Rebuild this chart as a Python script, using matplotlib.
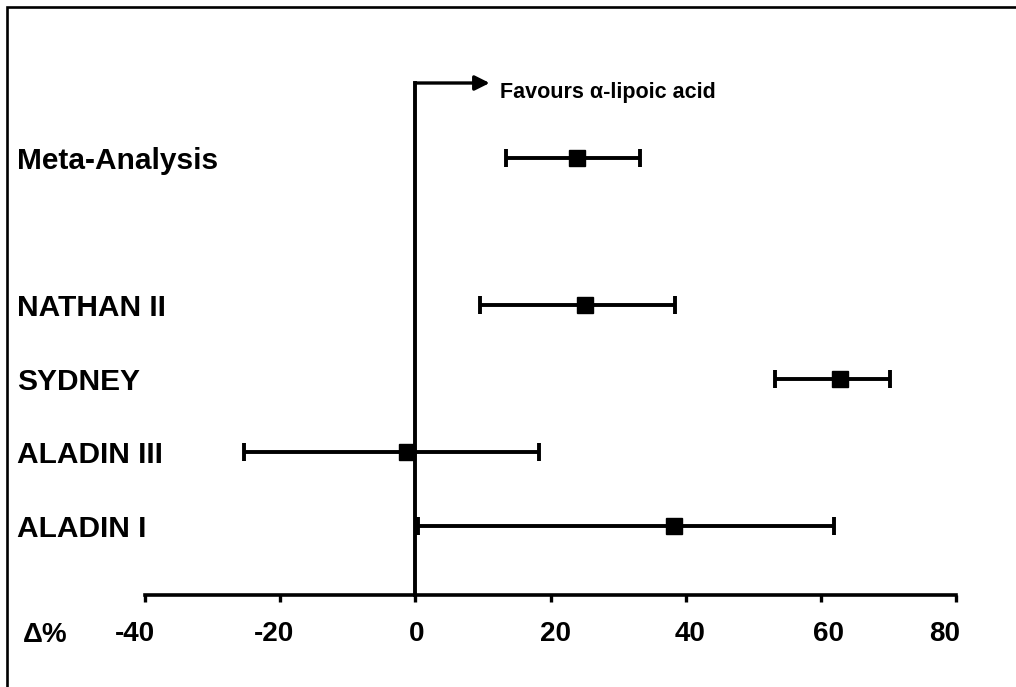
import matplotlib
matplotlib.use("Agg")
import matplotlib.pyplot as plt
import matplotlib.transforms as mtransforms
from matplotlib.patches import Rectangle

plt.rcParams['font.family'] = ['Liberation Sans', 'DejaVu Sans']
plt.rcParams['font.weight'] = 'bold'

# ---- data ----
studies = ["Meta-Analysis", "NATHAN II", "SYDNEY", "ALADIN III", "ALADIN I"]
positions = [6, 4, 3, 2, 1]
effect = [23.9, 25.1, 62.8, -1.3, 38.3]
ci_low = [13.4, 9.6, 53.2, -25.4, 0.4]
ci_high = [33.2, 38.4, 70.2, 18.3, 62.0]
xticks = [-40, -20, 0, 20, 40, 60, 80]
xtick_labels = ["-40", "-20", "0", "20", "40", "60", "80"]
axis_label = "\u0394%"
favour_text = "Favours \u03b1-lipoic acid"

W, H = 1016, 687
fig = plt.figure(figsize=(W / 100, H / 100), dpi=100)
fig.patch.set_facecolor("white")

# border (left and top visible; right/bottom run off the canvas)
fig.add_artist(Rectangle((7 / W, -0.1), 1.2, 1 - 7 / H + 0.1,
                         transform=fig.transFigure, fill=False,
                         lw=1.9, edgecolor="black"))

ax = fig.add_axes([145 / W, (H - 595) / H, (956 - 145) / W, (595 - 83) / H])
ax.set_xlim(-40, 80)
ax.set_ylim(0.061, 7.027)

for s in ["top", "right", "left"]:
    ax.spines[s].set_visible(False)
ax.spines["bottom"].set_linewidth(2.6)
ax.set_yticks([])
ax.set_xticks(xticks)
ax.set_xticklabels(xtick_labels, fontsize=20, fontweight="bold")
ax.tick_params(axis="x", direction="out", length=5, width=2.4, pad=14)

# small label offsets as in the reference
label_dx = [-10, -6, 1, 5, 4, 8, -11]
for lab, dx in zip(ax.get_xticklabels(), label_dx):
    lab.set_transform(lab.get_transform() +
                      mtransforms.ScaledTranslation(dx / 100, 0, fig.dpi_scale_trans))

# zero line with arrow
top = ax.get_ylim()[1]
ax.plot([0, 0], [ax.get_ylim()[0], top], color="black", lw=2.8,
        clip_on=False, solid_capstyle="projecting")
ax.annotate("", xy=(11, top), xytext=(0, top),
            arrowprops=dict(arrowstyle="-|>", lw=2.4, color="black",
                            mutation_scale=22, shrinkA=0, shrinkB=0),
            annotation_clip=False)
ax.text(12.5, top, favour_text, fontsize=15.5, fontweight="bold",
        ha="left", va="baseline", clip_on=False,
        transform=ax.transData + mtransforms.ScaledTranslation(0, -15 / 100, fig.dpi_scale_trans))

# error bars
xerr_low = [e - l for e, l in zip(effect, ci_low)]
xerr_high = [h - e for e, h in zip(effect, ci_high)]
ax.errorbar(effect, positions, xerr=[xerr_low, xerr_high], fmt="s",
            color="black", ecolor="black", elinewidth=2.8, capsize=6.5,
            capthick=2.8, markersize=11.5, clip_on=False, zorder=3)

# study labels
trans = mtransforms.blended_transform_factory(fig.transFigure, ax.transData)
for name, y in zip(studies, positions):
    ax.text(17 / W, y, name,
            transform=trans + mtransforms.ScaledTranslation(0, -11 / 100, fig.dpi_scale_trans),
            fontsize=21.5, fontweight="bold", ha="left", va="baseline")

# Δ% label
ax.text(23 / W, (H - 635) / H, axis_label, transform=fig.transFigure,
        fontsize=20, fontweight="bold", ha="left", va="center")

fig.savefig("out.png", dpi=100, facecolor="white")
